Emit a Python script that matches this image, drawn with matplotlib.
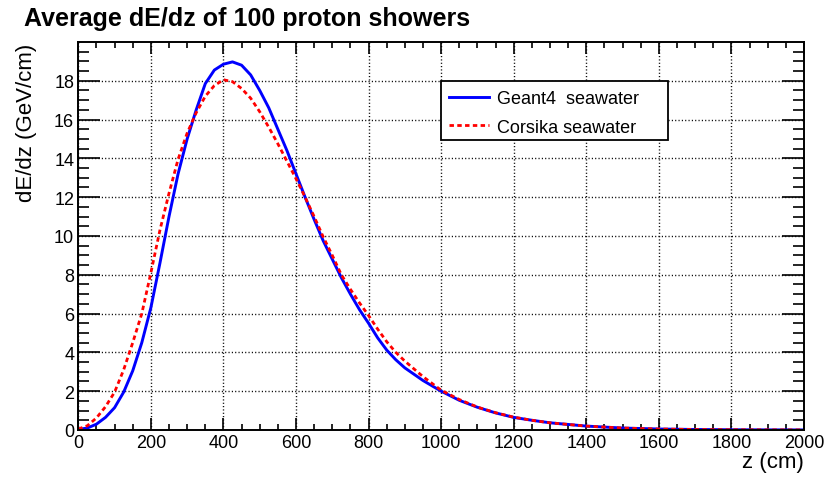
import matplotlib.pyplot as plt
from matplotlib.patches import Rectangle
from matplotlib.ticker import MultipleLocator

plt.rcParams['font.family'] = ['Liberation Sans', 'DejaVu Sans']

# Geant4: средний профиль dE/dz (z в см, dE/dz в ГэВ/см)
z_geant = [0, 25, 50, 75, 100, 125, 150, 175, 200, 225, 250, 275, 300, 325, 350,
           375, 400, 425, 450, 475, 500, 525, 550, 575, 600, 625, 650, 675, 700,
           725, 750, 775, 800, 825, 850, 875, 900, 950, 1000, 1050, 1100, 1150,
           1200, 1250, 1300, 1400, 1500, 1600, 1700, 1800, 1900, 2000]
dedz_geant = [0.03, 0.1, 0.3, 0.65, 1.15, 1.95, 3.05, 4.5, 6.3, 8.6, 11.0, 13.2,
              15.0, 16.5, 17.85, 18.55, 18.85, 18.97, 18.8, 18.3, 17.5, 16.6,
              15.5, 14.4, 13.2, 12.0, 10.85, 9.75, 8.8, 7.85, 7.0, 6.2, 5.5,
              4.75, 4.12, 3.62, 3.2, 2.55, 2.0, 1.53, 1.17, 0.88, 0.65, 0.5, 0.37,
              0.2, 0.1, 0.05, 0.025, 0.012, 0.006, 0.003]

# Corsika
z_corsika = [0, 25, 50, 75, 100, 125, 150, 175, 200, 225, 250, 275, 300, 325,
             350, 375, 400, 425, 450, 475, 500, 525, 550, 575, 600, 625, 650,
             675, 700, 725, 750, 775, 800, 825, 850, 875, 900, 950, 1000, 1050,
             1100, 1150, 1200, 1250, 1300, 1400, 1500, 1600, 1700, 1800, 1900,
             2000]
dedz_corsika = [0.05, 0.22, 0.62, 1.2, 1.95, 3.1, 4.5, 6.0, 8.1, 10.3, 12.2,
                13.95, 15.3, 16.35, 17.2, 17.75, 18.05, 17.95, 17.6, 17.1, 16.4,
                15.6, 14.75, 13.85, 12.95, 12.0, 11.0, 9.95, 9.0, 8.0, 7.25,
                6.55, 5.9, 5.2, 4.55, 4.0, 3.55, 2.75, 2.05, 1.57, 1.18, 0.89,
                0.66, 0.5, 0.37, 0.2, 0.1, 0.05, 0.025, 0.012, 0.006, 0.003]

fig = plt.figure(figsize=(8.26, 4.81), dpi=100)
ax = fig.add_axes([0.0948, 0.104, 0.8785, 0.806])

ax.plot(z_geant, dedz_geant, color='#0000ff', linewidth=2.1, label='Geant4  seawater')
ax.plot(z_corsika, dedz_corsika, color='#ff0000', linewidth=2.0,
        linestyle=(0, (1.6, 1.2)), label='Corsika seawater')

ax.set_xlim(0, 2000)
ax.set_ylim(0, 19.98)

# оси в стиле ROOT: риски внутрь со всех сторон
ax.xaxis.set_major_locator(MultipleLocator(200))
ax.xaxis.set_minor_locator(MultipleLocator(50))
ax.yaxis.set_major_locator(MultipleLocator(2))
ax.yaxis.set_minor_locator(MultipleLocator(0.5))
ax.tick_params(axis='both', which='both', direction='in', top=True, right=True,
               width=1.2, colors='black', labelsize=13)
ax.tick_params(axis='x', which='major', length=8.4, pad=3)
ax.tick_params(axis='x', which='minor', length=4.2)
ax.tick_params(axis='y', which='major', length=15.8, pad=3)
ax.tick_params(axis='y', which='minor', length=7.9)
for s in ax.spines.values():
    s.set_linewidth(1.4)

ax.grid(True, which='major', color='black', linestyle=(0, (0.8, 1.6)), linewidth=1.0)
ax.set_axisbelow(True)

ax.set_xlabel('z (cm)', fontsize=16, ha='right', x=1.0, labelpad=0)
ax.set_ylabel('dE/dz (GeV/cm)', fontsize=16, ha='right', y=1.0, labelpad=12)

fig.text(0.029, 0.946, 'Average dE/dz of 100 proton showers', fontsize=18,
         fontweight='bold', ha='left', va='baseline')

# рамка легенды
ax.add_patch(Rectangle((0.5, 0.748), 0.313, 0.152, transform=ax.transAxes,
                       facecolor='white', edgecolor='black', linewidth=1.3,
                       zorder=4))
leg = ax.legend(loc='upper left', bbox_to_anchor=(0.511, 0.876), fontsize=13,
                frameon=False, handlelength=2.2, handletextpad=0.48,
                borderpad=0, borderaxespad=0, labelspacing=0.62)
leg.set_zorder(5)

fig.savefig('out.png', dpi=100)
